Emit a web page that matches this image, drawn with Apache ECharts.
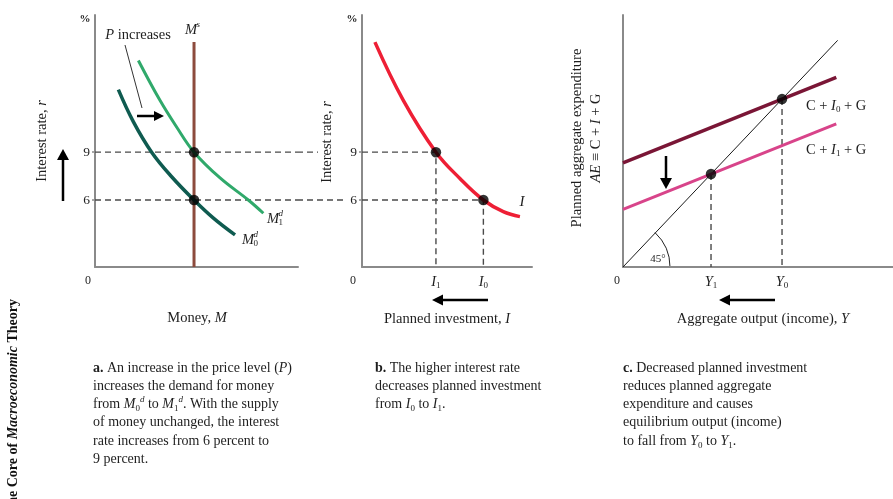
<!DOCTYPE html>
<html>
<head>
<meta charset="utf-8">
<script src="https://cdn.jsdelivr.net/npm/echarts@6/dist/echarts.min.js"></script>
<style>
  html, body { margin: 0; padding: 0; background: #fff; }
  #main { width: 893px; height: 499px; }
</style>
</head>
<body>
<div id="main"></div>
<script>
// ---- a. Money market -------------------------------------------------
const rateTicks = [6, 9];                 // interest-rate tick labels (%)
const rateRange = [1.8, 17.6];
const moneyRange = [0, 10.25];
const moneySupply = 5;                    // M^s
const moneySupplyTop = 15.9;
const moneyDemand0 = [[1.18, 12.92], [1.94, 10.9], [2.86, 9.0], [3.87, 7.46], [5, 6], [5.98, 4.86], [7.07, 3.81]];
const moneyDemand1 = [[2.19, 14.75], [3.28, 12.25], [4.12, 10.58], [5, 9], [6.3, 7.4], [7.74, 6], [8.5, 5.17]];
const moneyEquilibria = [[5, 9], [5, 6]];

// ---- b. Planned investment ------------------------------------------
const investRange = [0, 10];
const investment = [[0.76, 15.9], [2.43, 12.25], [4.35, 9], [5.76, 7.35], [7.14, 6], [8.31, 5.27], [9.29, 4.96]];
const investTicks = [4.35, 7.14];         // I1, I0
const investPoints = [[4.35, 9], [7.14, 6]];

// ---- c. Aggregate expenditure ---------------------------------------
const outputRange = [0, 10];
const expRange = [0, 8.84];
const line45 = [[0, 0], [7.95, 7.95]];
const aeHigh = [[0, 3.65], [7.9, 6.65]];  // C + I0 + G
const aeLow = [[0, 2.02], [7.9, 5.02]];   // C + I1 + G
const outputTicks = [3.26, 5.89];         // Y1, Y0
const outputPoints = [[3.26, 3.26], [5.89, 5.89]];

const SERIF = '"Liberation Serif", "DejaVu Serif", serif';
const INK = '#1e1e1e';
const AXIS_GRAY = '#8a8a8a';
const DASH = { color: '#4a4a4a', width: 1.4, type: [6, 4] };
const FS = 14.5;                          // label font size

function valueAxis(gridIndex, range, extra) {
  return Object.assign({
    type: 'value', gridIndex, min: range[0], max: range[1],
    axisLine: { show: true, onZero: false, lineStyle: { color: AXIS_GRAY, width: 2 } },
    axisTick: { show: false }, splitLine: { show: false }, axisLabel: { show: false }
  }, extra || {});
}

const rateAxisExtra = {
  axisTick: { show: true, customValues: rateTicks, length: 3, lineStyle: { color: AXIS_GRAY, width: 1.5 } },
  axisLabel: { show: true, customValues: rateTicks, margin: 5, fontFamily: SERIF, fontSize: 13.5, color: INK }
};
const subRich = {
  i: { fontFamily: SERIF, fontStyle: 'italic', fontSize: FS, color: INK },
  n: { fontFamily: SERIF, fontSize: FS, color: INK },
  s: { fontFamily: SERIF, fontSize: 9, color: INK, verticalAlign: 'bottom', padding: [7, 0, 0, 0] }
};
function subLabelAxis(values, letter) {
  return {
    axisLabel: {
      show: true, customValues: values, margin: 7,
      formatter: v => '{i|' + letter + '}{s|' + (v === values[0] ? '1' : '0') + '}',
      rich: subRich
    }
  };
}

function line(x, y, data, color, width, extra) {
  return Object.assign({
    type: 'line', xAxisIndex: x, yAxisIndex: y, data, symbol: 'none', silent: true,
    lineStyle: { color, width, cap: 'butt' }
  }, extra || {});
}
function dashed(x, y, data) {
  return { type: 'line', xAxisIndex: x, yAxisIndex: y, data, symbol: 'none', clip: false, silent: true, lineStyle: DASH, z: 1 };
}
function dots(x, y, data) {
  return { type: 'scatter', xAxisIndex: x, yAxisIndex: y, data, symbolSize: 10.5, itemStyle: { color: '#000' }, z: 5, silent: true };
}

const series = [
  // a
  dashed(0, 0, [[0, rateTicks[1]], [moneyRange[1], rateTicks[1]]]),
  dashed(0, 0, [[0, rateTicks[0]], [moneyRange[1], rateTicks[0]]]),
  line(0, 0, [[moneySupply, rateRange[0]], [moneySupply, moneySupplyTop]], '#8d4b3d', 3),
  line(0, 0, moneyDemand0, '#0f5b50', 3.5, { smooth: 0.4 }),
  line(0, 0, moneyDemand1, '#30a96b', 3, { smooth: 0.4 }),
  dots(0, 0, moneyEquilibria),
  // b
  dashed(1, 1, [[0, investPoints[0][1]], investPoints[0], [investPoints[0][0], rateRange[0]]]),
  dashed(1, 1, [[0, investPoints[1][1]], investPoints[1], [investPoints[1][0], rateRange[0]]]),
  line(1, 1, investment, '#ee1f35', 3.5, { smooth: 0.4 }),
  dots(1, 1, investPoints),
  // c
  dashed(2, 2, [outputPoints[0], [outputPoints[0][0], 0]]),
  dashed(2, 2, [outputPoints[1], [outputPoints[1][0], 0]]),
  line(2, 2, line45, '#1a1a1a', 1),
  line(2, 2, aeHigh, '#7a1636', 3.5),
  line(2, 2, aeLow, '#d8448a', 3),
  dots(2, 2, outputPoints)
];

// ---- annotation helpers ----------------------------------------------
function arrow(x1, y1, x2, y2, w, hl, hw) {
  w = w || 2.5; hl = hl || 9; hw = hw || 5;
  const a = Math.atan2(y2 - y1, x2 - x1);
  const bx = x2 - hl * Math.cos(a), by = y2 - hl * Math.sin(a);
  const px = -Math.sin(a) * hw, py = Math.cos(a) * hw;
  return [
    { type: 'line', shape: { x1, y1, x2: bx, y2: by }, style: { stroke: '#000', lineWidth: w } },
    { type: 'polygon', shape: { points: [[x2, y2], [bx + px, by + py], [bx - px, by - py]] }, style: { fill: '#000' } }
  ];
}
const ital = { fontFamily: SERIF, fontStyle: 'italic', fontSize: FS, color: INK };
function text(x, y, str, opt) {
  opt = opt || {};
  return {
    type: 'text', x, y, rotation: opt.rotation || 0, z: 10,
    style: {
      text: str, fontFamily: SERIF, fontSize: opt.size || FS, fontStyle: opt.italic ? 'italic' : 'normal',
      fontWeight: opt.bold ? 'bold' : 'normal', fill: INK,
      align: opt.align || 'center', verticalAlign: opt.valign || 'middle',
      rich: opt.rich || { i: ital, s: subRich.s }
    }
  };
}
// italic symbol with stacked superscript / subscript
function symbolStack(x, y, base, sup, sub, size) {
  size = size || FS;
  const w = size * 0.8;
  const out = [text(x, y, base, { italic: true, size, align: 'left' })];
  if (sup) out.push(text(x + w, y - 5, sup, { italic: true, size: 9, align: 'left' }));
  if (sub) out.push(text(x + w, y + 4, sub, { size: 9, align: 'left' }));
  return out;
}

const CAP = 14;
const capRich = {
  b: { fontFamily: SERIF, fontWeight: 'bold', fontSize: CAP, color: INK },
  i: { fontFamily: SERIF, fontStyle: 'italic', fontSize: CAP, color: INK },
  s: { fontFamily: SERIF, fontSize: 9, color: INK, verticalAlign: 'bottom' },
  p: { fontFamily: SERIF, fontStyle: 'italic', fontSize: 9, color: INK, verticalAlign: 'top' }
};
function caption(x, y, lines) {
  return {
    type: 'text', x, y, z: 10,
    style: {
      text: lines.join('\n'), fontFamily: SERIF, fontSize: CAP, fill: INK,
      align: 'left', verticalAlign: 'top', lineHeight: 18.2, rich: capRich
    }
  };
}

const graphic = [].concat(
  // panel a
  text(85, 19, '%', { size: 11, bold: true }),
  text(88, 281, '0', { size: 12 }),
  text(42, 141, 'Interest rate, {i|r}', { rotation: Math.PI / 2 }),
  arrow(63, 201, 63, 149, 2.5, 11, 6),
  symbolStack(185, 30, 'M', 's', null),
  text(138, 35, '{i|P} increases'),
  { type: 'line', shape: { x1: 125, y1: 45, x2: 142, y2: 108 }, style: { stroke: '#333', lineWidth: 1 } },
  arrow(137, 116, 164, 116, 2.5, 10, 5),
  symbolStack(267, 219, 'M', 'd', '1'),
  symbolStack(242, 240, 'M', 'd', '0'),
  text(197, 318, 'Money, {i|M}'),
  caption(93, 359, [
    '{b|a.} An increase in the price level ({i|P})',
    'increases the demand for money',
    'from {i|M}{s|0}{p|d} to {i|M}{s|1}{p|d}. With the supply',
    'of money unchanged, the interest',
    'rate increases from 6 percent to',
    '9 percent.'
  ]),
  // panel b
  text(352, 19, '%', { size: 11, bold: true }),
  text(353, 281, '0', { size: 12 }),
  text(327, 142, 'Interest rate, {i|r}', { rotation: Math.PI / 2 }),
  text(522, 202, 'I', { italic: true, size: 15 }),
  arrow(488, 300, 432, 300, 2.5, 11, 5.5),
  text(447, 319, 'Planned investment, {i|I}'),
  caption(375, 359, [
    '{b|b.} The higher interest rate',
    'decreases planned investment',
    'from {i|I}{s|0} to {i|I}{s|1}.'
  ]),
  // panel c
  text(577, 138, 'Planned aggregate expenditure', { rotation: Math.PI / 2 }),
  text(596, 138, '{i|AE} \u2261 C + {i|I} + G', { rotation: Math.PI / 2 }),
  text(617, 281, '0', { size: 12 }),
  text(806, 106, 'C + {i|I}{s|0} + G', { align: 'left' }),
  text(806, 150, 'C + {i|I}{s|1} + G', { align: 'left' }),
  arrow(666, 156, 666, 189, 2.5, 11, 6),
  { type: 'arc', shape: { cx: 623, cy: 267, r: 47, startAngle: -47 * Math.PI / 180, endAngle: 0, clockwise: true }, style: { stroke: '#222', lineWidth: 1, fill: null } },
  text(658, 259, '45\u00b0', { size: 11 }),
  arrow(775, 300, 719, 300, 2.5, 11, 5.5),
  text(763, 319, 'Aggregate output (income), {i|Y}'),
  caption(623, 359, [
    '{b|c.} Decreased planned investment',
    'reduces planned aggregate',
    'expenditure and causes',
    'equilibrium output (income)',
    'to fall from {i|Y}{s|0} to {i|Y}{s|1}.'
  ]),
  // running head along the page edge
  {
    type: 'text', x: 13, y: 299, rotation: Math.PI / 2, z: 10,
    style: {
      text: 'The Core of {i|Macroeconomic} Theory', fontFamily: SERIF, fontSize: 14, fontWeight: 'bold',
      fill: '#111', align: 'right', verticalAlign: 'middle',
      rich: { i: { fontFamily: SERIF, fontSize: 14, fontWeight: 'bold', fontStyle: 'italic', color: '#111' } }
    }
  }
);

const chart = echarts.init(document.getElementById('main'), null, { renderer: 'canvas' });
chart.setOption({
  animation: false,
  backgroundColor: '#fff',
  grid: [
    { left: 95, top: 15, width: 203, height: 252 },
    { left: 362, top: 15, width: 170, height: 252 },
    { left: 623, top: 15, width: 270, height: 252 }
  ],
  xAxis: [
    valueAxis(0, moneyRange),
    valueAxis(1, investRange, subLabelAxis(investTicks, 'I')),
    valueAxis(2, outputRange, subLabelAxis(outputTicks, 'Y'))
  ],
  yAxis: [
    valueAxis(0, rateRange, rateAxisExtra),
    valueAxis(1, rateRange, rateAxisExtra),
    valueAxis(2, expRange)
  ],
  series,
  graphic
});

// Rate guides run on from the money panel toward the investment panel.
const guideEnds = { 9: 318, 6: 347 };
const extra = rateTicks.map(r => {
  const p = chart.convertToPixel({ xAxisIndex: 0, yAxisIndex: 0 }, [moneyRange[1], r]);
  return {
    type: 'line', z: 1, silent: true,
    shape: { x1: p[0], y1: p[1], x2: guideEnds[r], y2: p[1] },
    style: { stroke: DASH.color, lineWidth: DASH.width, lineDash: DASH.type, lineDashOffset: 1 }
  };
});
chart.setOption({ graphic: graphic.concat(extra) });
</script>
</body>
</html>
